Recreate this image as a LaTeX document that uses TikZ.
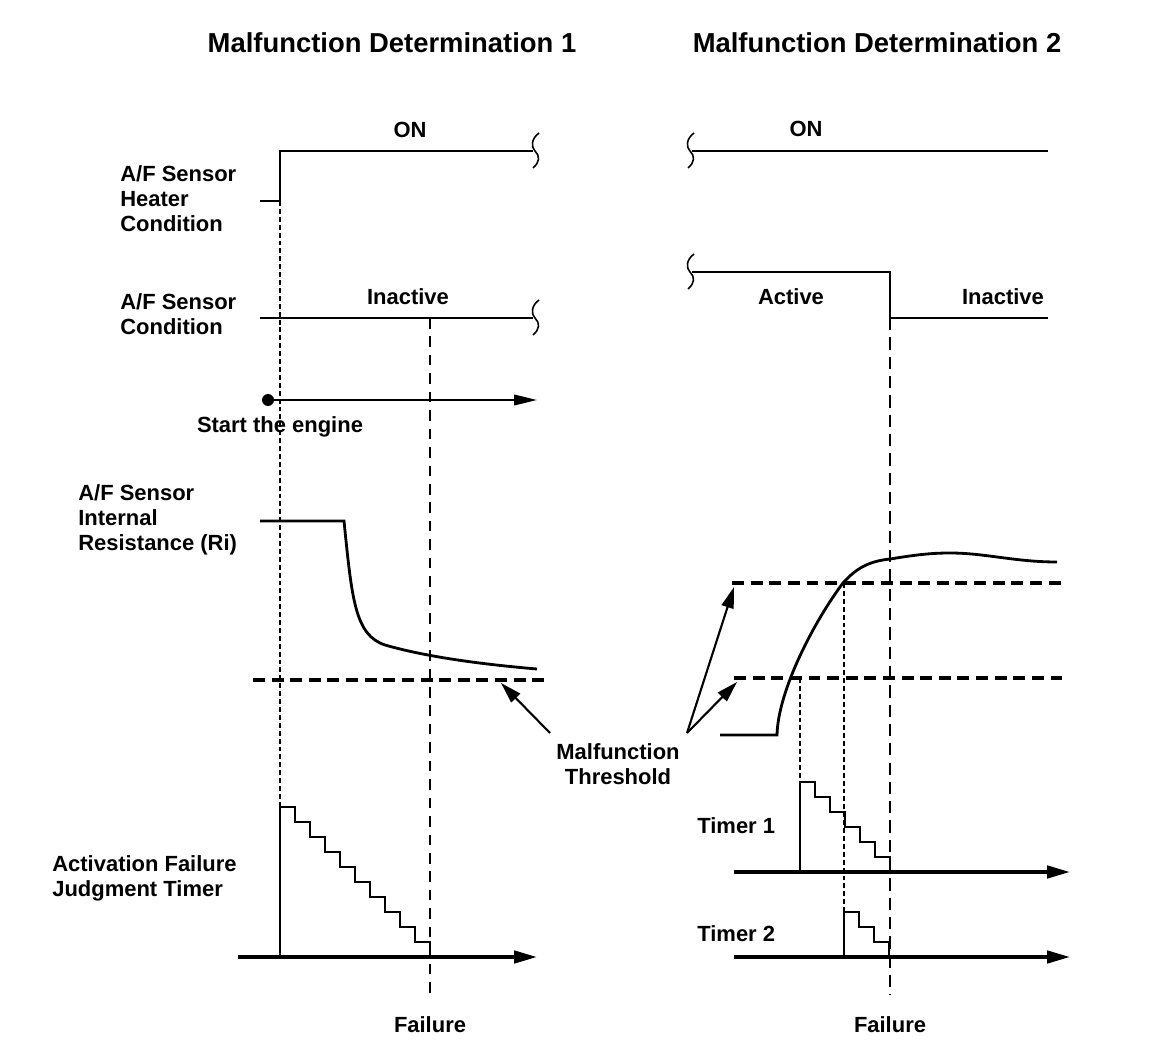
\documentclass[tikz,border=0pt]{standalone}
\usepackage{fontspec}
\setmainfont{Liberation Sans}
\usetikzlibrary{arrows.meta}
\begin{document}
\begin{tikzpicture}[x=0.02cm, y=-0.02cm,
    sig/.style={line width=1.3pt},
    axis/.style={line width=2pt, -{Triangle[length=13pt,width=7pt]}},
    ptr/.style={line width=1.2pt, -{Triangle[length=12pt,width=7pt]}},
    thr/.style={line width=2pt, dash pattern=on 6.8pt off 3.8pt},
    guide/.style={line width=0.6pt, dash pattern=on 2.8pt off 1.7pt},
    failline/.style={line width=0.7pt, dash pattern=on 6pt off 4.5pt},
    stairs/.style={line width=1pt},
    lbl/.style={font=\fontsize{12.5}{14.2}\selectfont\bfseries, inner sep=0pt, align=left},
    ttl/.style={font=\fontsize{15.6}{18}\selectfont\bfseries, inner sep=0pt},
    squig/.pic={\draw[line width=0.9pt] (4,-18) .. controls (-4,-12) and (-4,-4) .. (0,0)
        .. controls (5,5) and (5,11) .. (-2,17);}]
    \useasboundingbox (0,0) rectangle (1152,1050);

    % Titles
    \node [ttl] (title1) at (392,43) {Malfunction Determination 1};
    \node [ttl] (title2) at (877,43) {Malfunction Determination 2};

    % Row labels
    \node [lbl, anchor=west] (heaterlbl) at (120,199) {A/F Sensor\\Heater\\Condition};
    \node [lbl, anchor=west] (condlbl) at (120,314) {A/F Sensor\\Condition};
    \node [lbl, anchor=west] (rilbl) at (78,520) {A/F Sensor\\Internal\\Resistance (Ri)};
    \node [lbl, anchor=west] (timerlbl) at (52,878) {Activation Failure\\Judgment Timer};
    \node [lbl, anchor=west] (timer1lbl) at (697,826) {Timer 1};
    \node [lbl, anchor=west] (timer2lbl) at (697,934) {Timer 2};

    % State labels
    \node [lbl] (onA) at (410,130) {ON};
    \node [lbl] (inactA) at (408,297) {Inactive};
    \node [lbl] (onB) at (806,129) {ON};
    \node [lbl] (actB) at (791,297) {Active};
    \node [lbl] (inactB) at (1003,297) {Inactive};
    \node [lbl] (startlbl) at (280,427) {Start the engine};
    \node [lbl] (failA) at (430,1025) {Failure};
    \node [lbl] (failB) at (890,1025) {Failure};
    \node [lbl, align=center] (thrlbl) at (618,764) {Malfunction\\Threshold};

    % Guide lines
    \draw [guide] (280,201) -- (280,807);
    \draw [failline] (430,318) -- (430,995);
    \draw [guide] (800,678) -- (800,782);
    \draw [guide] (844,583) -- (844,912);
    \draw [failline, line width=1.5pt, dash pattern=on 7pt off 4pt] (890,318) -- (890,995);

    % Heater condition
    \draw [sig] (260,201) -- (280,201) -- (280,151) -- (533,151);
    \pic at (535,151) {squig};
    \pic at (690,151) {squig};
    \draw [sig] (692,151) -- (1048,151);

    % Sensor condition
    \draw [sig] (260,318) -- (533,318);
    \pic at (535,318) {squig};
    \pic at (690,272) {squig};
    \draw [sig] (692,272) -- (890,272) -- (890,318) -- (1048,318);

    % Start the engine
    \coordinate (start) at (268,400);
    \coordinate (startend) at (537,400);
    \fill (start) circle [radius=6];
    \draw [line width=1.1pt, -{Triangle[length=13pt,width=6pt]}] (start) -- (startend);

    % Internal resistance
    \draw [line width=1.6pt] (260,521) -- (344,521)
        .. controls (352,600) and (355,635) .. (385,645)
        .. controls (430,658) and (490,665) .. (537,669);
    \draw [line width=1.6pt] (720,735) -- (777,735)
        .. controls (778,690) and (815,620) .. (843,583)
        .. controls (858,566) and (872,561) .. (890,559)
        .. controls (915,555) and (930,553) .. (950,553)
        .. controls (985,553) and (1015,562) .. (1057,562);

    % Thresholds
    \draw [thr] (253,680) -- (548,680);
    \draw [thr] (732,583) -- (1062,583);
    \draw [thr] (734,678) -- (1062,678);
    \coordinate (thrA) at (550,733);
    \coordinate (thrB) at (687,733);
    \coordinate (tipA) at (501,683);
    \coordinate (tipB) at (734,587);
    \coordinate (tipC) at (737,682);
    \draw [ptr] (thrA) -- (tipA);
    \draw [ptr] (thrB) -- (tipB);
    \draw [ptr] (thrB) -- (tipC);

    % Timers
    \draw [axis] (238,957) -- (537,957);
    \draw [axis] (734,872) -- (1070,872);
    \draw [axis] (734,957) -- (1070,957);
    \draw [line width=0.7pt] (280,957) -- (280,807);
    \draw [stairs] (280,807) \foreach \k in {1,...,10} { -- ++(15,0) -- ++(0,15) };
    \draw [line width=1pt] (800,872) -- (800,782);
    \draw [stairs] (800,782) \foreach \k in {1,...,6} { -- ++(15,0) -- ++(0,15) };
    \draw [line width=0.7pt] (844,957) -- (844,912);
    \draw [stairs] (844,912) \foreach \k in {1,...,3} { -- ++(15,0) -- ++(0,15) };
\end{tikzpicture}
\end{document}
